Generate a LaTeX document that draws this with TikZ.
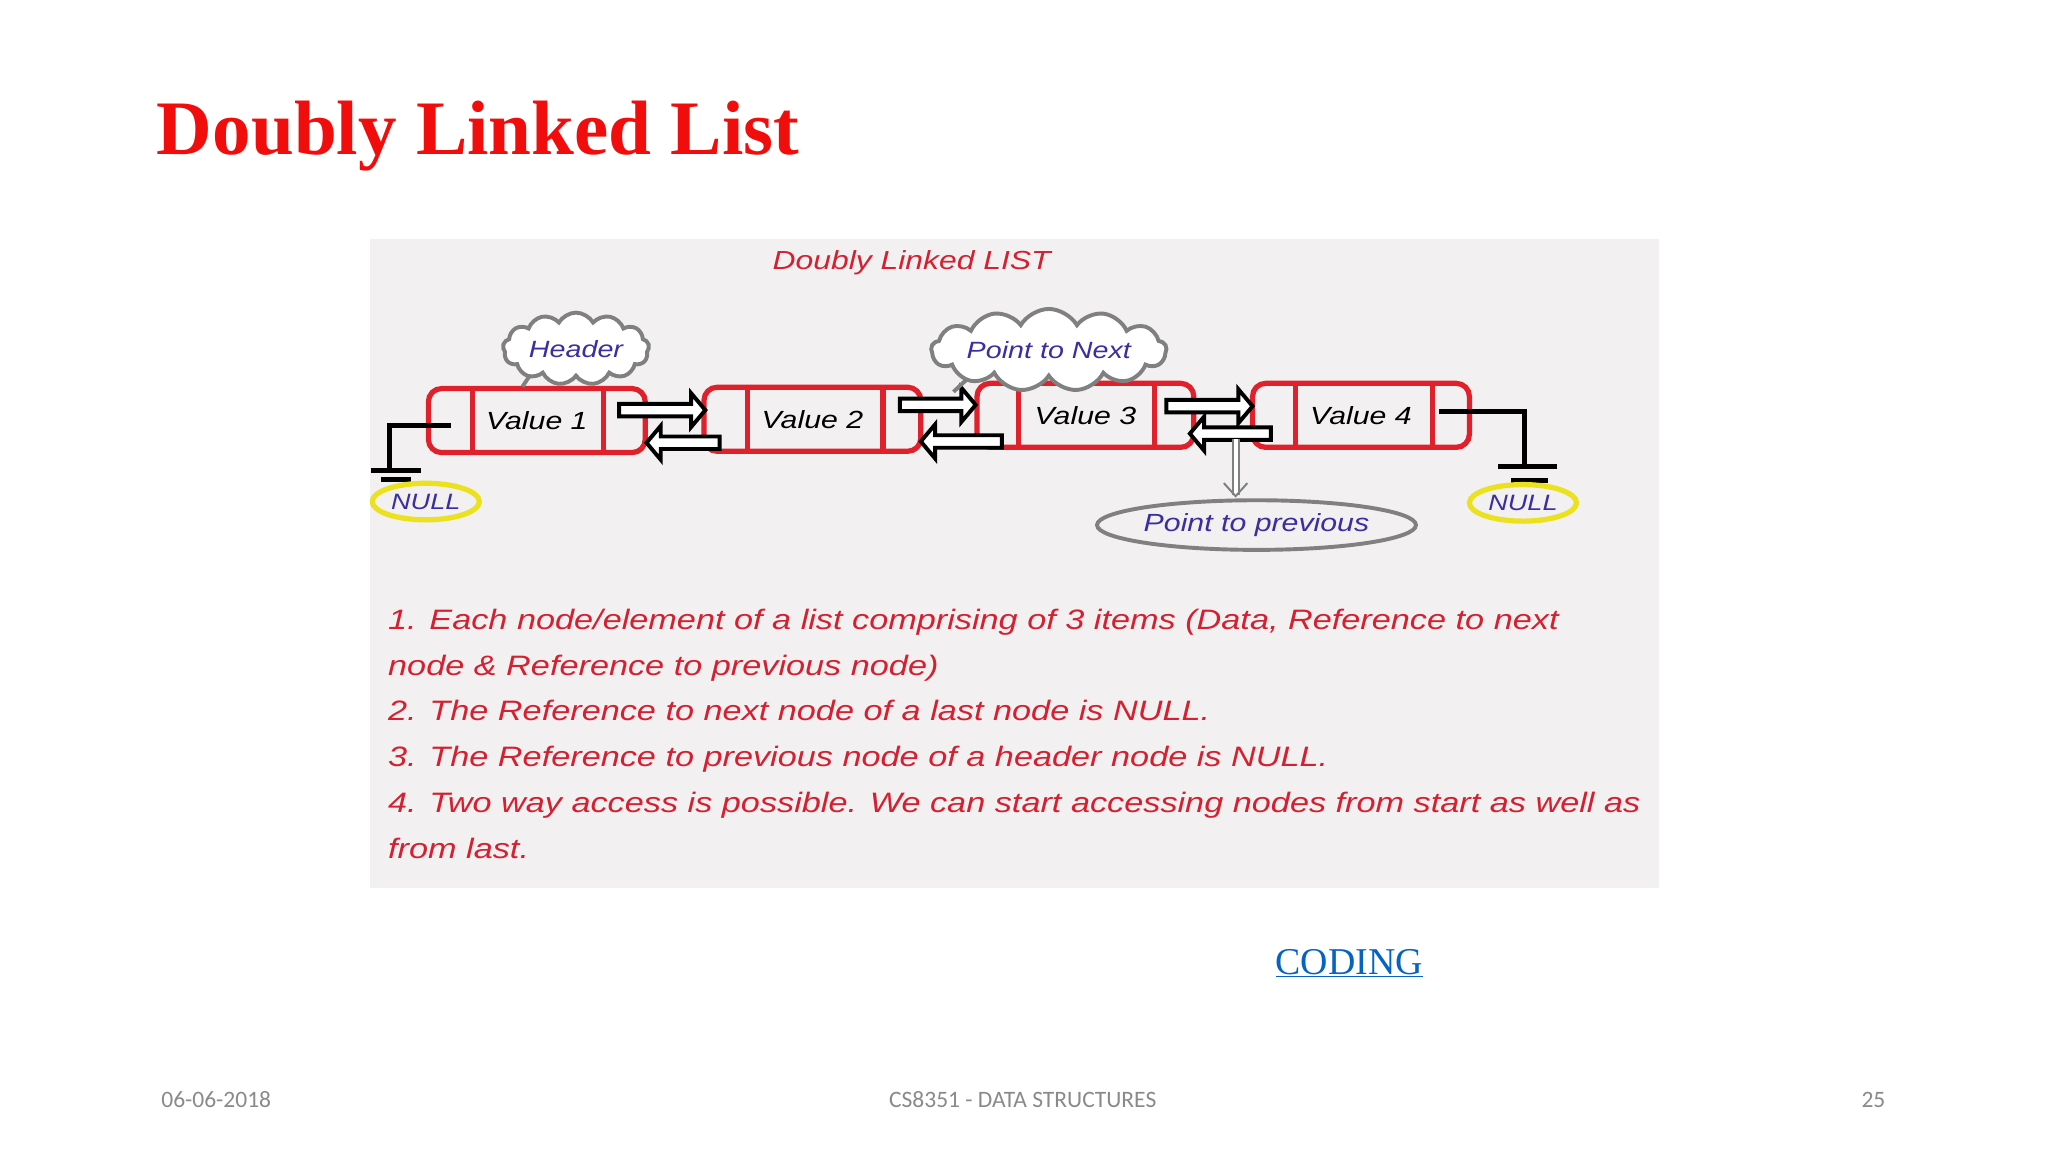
\documentclass[tikz,border=0pt]{standalone}
\usepackage{fontspec}
\setmainfont{Liberation Serif}
\newfontfamily\hand[FakeStretch=1.22]{Liberation Sans}
\newfontfamily\calfont{Carlito}
\usetikzlibrary{shapes.symbols,shapes.arrows,shapes.geometric,arrows.meta}
\definecolor{tred}{HTML}{F20D0D}
\definecolor{hred}{HTML}{D42030}
\definecolor{bred}{HTML}{E0202A}
\definecolor{hblue}{HTML}{3A2EA0}
\definecolor{panel}{HTML}{F2F0F0}
\definecolor{foot}{HTML}{8A8A8A}
\tikzset{
 lbox/.style={draw=bred,line width=4pt,rounded corners=10pt,minimum width=166pt,minimum height=49pt,inner sep=0pt,font=\hand\itshape\fontsize{19}{19}\selectfont},
 barr/.style={single arrow,draw=black,fill=white,line width=3pt,minimum height=#1,minimum width=26pt,single arrow head extend=6pt,single arrow tip angle=100,inner sep=2pt},
 larr/.style={barr=#1,shape border rotate=180},
 cld/.style={cloud,cloud puffs=13,cloud puff arc=120,draw=gray,line width=3pt,fill=white,aspect=#1,text=hblue,font=\hand\itshape\fontsize{18}{18}\selectfont,inner sep=0pt},
 nul/.style={ellipse,draw={rgb,255:red,235;green,225;blue,30},line width=4pt,minimum width=82pt,minimum height=28pt,text=hblue,font=\hand\itshape\fontsize{17}{17}\selectfont,inner sep=0pt},
 gnd/.style={line width=4pt,black},
 txt/.style={anchor=base west,text=hred,font=\hand\itshape\fontsize{21.5}{21.5}\selectfont,inner sep=0pt},
 foottxt/.style={text=foot,font=\calfont\fontsize{18}{18}\selectfont,anchor=base}
}
\begin{document}
\begin{tikzpicture}[x=1pt,y=-1pt]
\fill[white] (0,0) rectangle (1568,882);
\useasboundingbox (0,0) rectangle (1568,882);
\node[anchor=base west,text=tred,inner sep=0pt,font=\bfseries\fontsize{59}{59}\selectfont] (title) at (120,118) {Doubly Linked List};
\fill[panel] (283,183) rectangle (1270,680);
\node[text=hred,font=\hand\itshape\fontsize{20}{20}\selectfont] (sub) at (698,201) {Doubly Linked LIST};
% boxes
\node[lbox] (v1) at (411,322) {Value 1};
\node[lbox] (v2) at (622,321) {Value 2};
\node[lbox] (v3) at (831,318) {Value 3};
\node[lbox] (v4) at (1042,318) {Value 4};
\draw[bred,line width=4pt] (362,298)--(362,346) (462,298)--(462,346)
 (572,297)--(572,345) (676,297)--(676,345)
 (780,294)--(780,342) (884,294)--(884,342)
 (992,294)--(992,342) (1097,294)--(1097,342);
% arrows
\node[barr=66pt] (a12) at (505,314) {};
\node[larr=56pt] (b21) at (525,339) {};
\node[barr=58pt] (a23) at (716,310) {};
\node[larr=62pt] (b32) at (738,338) {};
\node[barr=66pt] (a34) at (924,311) {};
\node[larr=62pt] (b43) at (944,332) {};
% clouds
\draw[gray,line width=3pt] (408,284)--(400,296);
\node[cld=2.4,minimum width=112pt,minimum height=40pt] (hdr) at (441,267) {Header};
\draw[gray,line width=3pt] (745,286)--(730,300);
\node[cld=4.5,minimum width=180pt,minimum height=38pt] (pn) at (803,268) {Point to Next};
% NULL ends
\coordinate (l0) at (345,326);
\coordinate (l1) at (298,326);
\draw[gnd] (l0) -- (l1) -- (298,360);
\draw[gnd] (284,360)--(322,360) (292,367)--(315,367);
\node[nul] (n1) at (326,384) {NULL};
\coordinate (r0) at (1102,315);
\coordinate (r1) at (1167,315);
\draw[gnd] (r0) -- (r1) -- (1167,357);
\draw[gnd] (1147,357)--(1192,357) (1157,368)--(1185,368);
\node[nul] (n2) at (1166,385) {NULL};
% point to previous
\node[ellipse,draw=gray,line width=3pt,minimum width=240pt,minimum height=38pt,text=hblue,font=\hand\itshape\fontsize{19}{19}\selectfont,inner sep=0pt] (pp) at (962,402) {Point to previous};
\coordinate (ps) at (946,336);
\draw[gray,line width=1.5pt,double=white,double distance=3pt,-{Straight Barb[length=10pt,width=18pt]}] (ps) -- (946,381);
% text
\node[txt] (t1) at (297,482) {1. Each node/element of a list comprising of 3 items (Data, Reference to next};
\node[txt] (t2) at (297,517) {node \& Reference to previous node)};
\node[txt] (t3) at (297,552) {2. The Reference to next node of a last node is NULL.};
\node[txt] (t4) at (297,587) {3. The Reference to previous node of a header node is NULL.};
\node[txt] (t5) at (297,622) {4. Two way access is possible. We can start accessing nodes from start as well as};
\node[txt] (t6) at (297,657) {from last.};
% coding
\node[text={rgb,255:red,5;green,99;blue,193},font=\fontsize{29}{29}\selectfont,anchor=base,inner sep=0pt] (cod) at (1033,746) {\underline{CODING}};
% footer
\node[foottxt,anchor=base west] (d) at (120,848) {06-06-2018};
\node[foottxt] (c) at (783,848) {CS8351 - DATA STRUCTURES};
\node[foottxt,anchor=base east] (p) at (1447,848) {25};
\end{tikzpicture}
\end{document}
